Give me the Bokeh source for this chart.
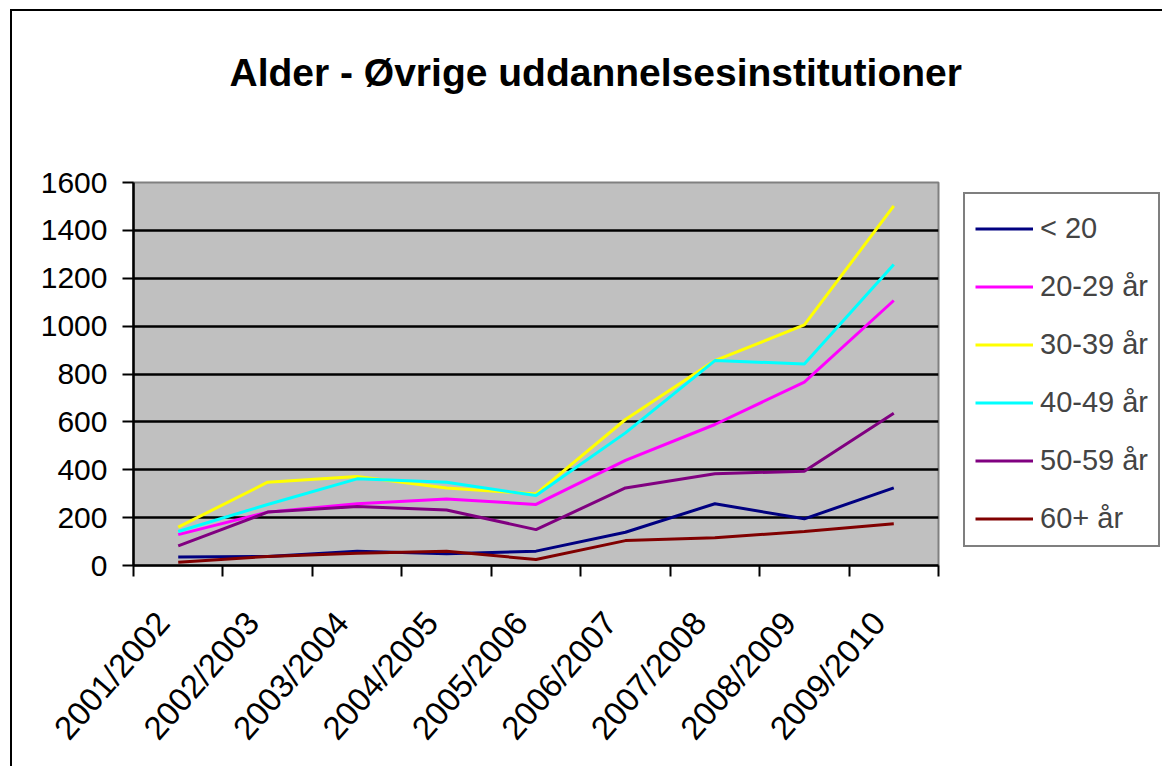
import math
from bokeh.plotting import figure
from bokeh.models import Range1d, FixedTicker, Legend, LegendItem, Title
from bokeh.embed import file_html
from bokeh.resources import INLINE

categories = ["2001/2002", "2002/2003", "2003/2004", "2004/2005", "2005/2006",
              "2006/2007", "2007/2008", "2008/2009", "2009/2010"]
under_20 = [36, 38, 60, 49, 60, 139, 258, 195, 324]
age_20_29 = [129, 223, 258, 278, 255, 439, 589, 766, 1107]
age_30_39 = [160, 348, 372, 324, 299, 610, 856, 1005, 1502]
age_40_49 = [142, 255, 362, 348, 292, 554, 856, 842, 1257]
age_50_59 = [82, 223, 246, 232, 150, 324, 383, 394, 636]
age_60_plus = [14, 38, 51, 60, 25, 104, 116, 142, 174]

series_names = ["< 20", "20-29 år", "30-39 år", "40-49 år", "50-59 år", "60+ år"]
series_values = [under_20, age_20_29, age_30_39, age_40_49, age_50_59, age_60_plus]
series_colors = ["#000080", "#FF00FF", "#FFFF00", "#00FFFF", "#800080", "#800000"]
y_ticks = [0, 200, 400, 600, 800, 1000, 1200, 1400, 1600]
chart_title = "Alder - Øvrige uddannelsesinstitutioner"

FONT = "Liberation Sans"

xs = [i + 0.5 for i in range(len(categories))]
# rotated tick labels sit slightly left of the category centre (label placement only)
label_pos = [x - 0.17 for x in xs]

p = figure(title=None, frame_width=805, frame_height=383,
           min_border_left=121, min_border_right=222,
           min_border_top=171, min_border_bottom=201,
           x_range=Range1d(0, len(categories)), y_range=Range1d(0, 1600),
           output_backend="svg", toolbar_location=None,
           background_fill_color="#C0C0C0", border_fill_color="white")
p.styles = {"border-left": "2px solid black", "border-top": "2px solid black",
            "margin-left": "10px", "margin-top": "9px"}

# spacer between the frame and the title, then the title itself
spacer = Title(text=" ", text_font_size="1px", standoff=86)
main_title = Title(text=chart_title, align="left", offset=96, standoff=0,
                   vertical_align="bottom", text_font=FONT,
                   text_font_style="bold", text_font_size="39px",
                   text_color="black")
p.add_layout(spacer, "above")
p.add_layout(main_title, "above")

p.outline_line_color = "#808080"
p.outline_line_width = 2

# y axis
p.yaxis.ticker = FixedTicker(ticks=y_ticks)
p.yaxis.axis_line_color = "black"
p.yaxis.axis_line_width = 2.5
p.yaxis.major_tick_line_color = "black"
p.yaxis.major_tick_line_width = 2
p.yaxis.major_tick_out = 11
p.yaxis.major_tick_in = 0
p.yaxis.minor_tick_line_color = None
p.yaxis.major_label_standoff = 15
p.yaxis.major_label_text_font = FONT
p.yaxis.major_label_text_font_size = "30px"
p.yaxis.major_label_text_color = "black"

# x axis
p.xaxis.ticker = FixedTicker(ticks=label_pos, minor_ticks=list(range(len(categories) + 1)))
p.xaxis.major_label_overrides = {x: c for x, c in zip(label_pos, categories)}
p.xaxis.axis_line_color = "black"
p.xaxis.axis_line_width = 2.5
p.xaxis.major_tick_line_color = None
p.xaxis.major_tick_out = 0
p.xaxis.major_tick_in = 0
p.xaxis.minor_tick_line_color = "black"
p.xaxis.minor_tick_line_width = 2
p.xaxis.minor_tick_out = 11
p.xaxis.minor_tick_in = 0
p.xaxis.major_label_orientation = math.radians(49)
p.xaxis.major_label_standoff = 40
p.xaxis.major_label_text_font = FONT
p.xaxis.major_label_text_font_size = "33px"
p.xaxis.major_label_text_color = "black"

p.xgrid.grid_line_color = None
p.ygrid.ticker = FixedTicker(ticks=y_ticks)
p.ygrid.grid_line_color = "black"
p.ygrid.grid_line_width = 2.5

items = []
for name, vals, col in zip(series_names, series_values, series_colors):
    r = p.line(xs, vals, line_color=col, line_width=3)
    items.append(LegendItem(label=name, renderers=[r]))

legend = Legend(items=items, location=(25, 18), margin=0,
                title=" ", title_text_font_size="1px", title_standoff=7,
                padding=10, spacing=25, glyph_width=58, glyph_height=33,
                label_height=33, label_standoff=7,
                label_text_font=FONT, label_text_font_size="29px",
                border_line_color="black", border_line_width=2,
                background_fill_color="white", background_fill_alpha=1)
p.add_layout(legend, "right")

open("out.html", "w").write(file_html(p, INLINE))
